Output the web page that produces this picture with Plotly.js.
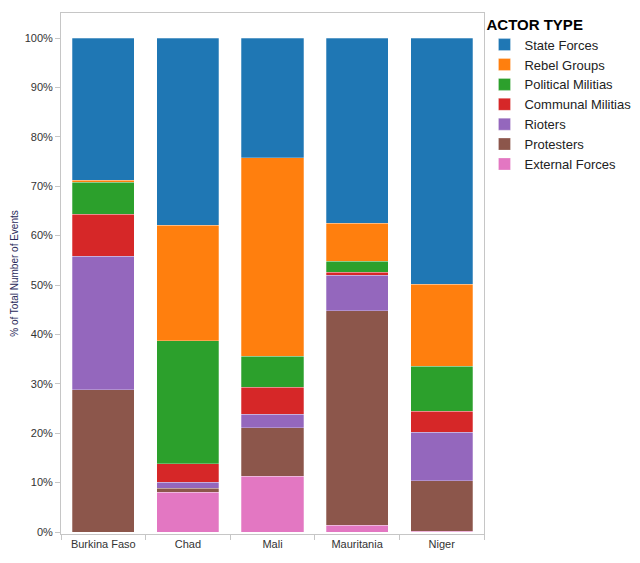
<!DOCTYPE html>
<html>
<head>
<meta charset="utf-8">
<script src="https://cdn.plot.ly/plotly-3.0.1.min.js"></script>
<style>
  html, body { margin: 0; padding: 0; background: #fff; }
  #chart { width: 640px; height: 563px; }
</style>
</head>
<body>
<div id="chart"></div>
<script>
// countries along the x axis
var countries = ['Burkina Faso', 'Chad', 'Mali', 'Mauritania', 'Niger'];

// share of events per actor type, in %
var externalForces   = [0.0,  8.1, 11.3,  1.4,  0.15];
var protesters       = [28.8, 0.8,  9.8, 43.4, 10.25];
var rioters          = [27.0, 1.2,  2.7,  7.2,  9.8];
var communalMilitias = [8.5,  3.7,  5.5,  0.6,  4.2];
var politicalMilitias= [6.5, 24.95, 6.3,  2.2,  9.2];
var rebelGroups      = [0.4, 23.35, 40.2, 7.7, 16.6];
var stateForces      = [28.8, 37.9, 24.2, 37.5, 49.8];

// y axis ticks
var yTicks = [0, 10, 20, 30, 40, 50, 60, 70, 80, 90, 100];
var yTickLabels = ['0%', '10%', '20%', '30%', '40%', '50%', '60%', '70%', '80%', '90%', '100%'];

// bottom to top of the stack
var series = [
    { name: 'External Forces',   y: externalForces,    color: '#e377c2' },
    { name: 'Protesters',        y: protesters,        color: '#8c564b' },
    { name: 'Rioters',           y: rioters,           color: '#9467bd' },
    { name: 'Communal Militias', y: communalMilitias,  color: '#d62728' },
    { name: 'Political Militias',y: politicalMilitias, color: '#2ca02c' },
    { name: 'Rebel Groups',      y: rebelGroups,       color: '#ff7f0e' },
    { name: 'State Forces',      y: stateForces,       color: '#1f77b4' }
];

var traces = series.map(function (s) {
    return {
        type: 'bar',
        name: s.name,
        x: countries,
        y: s.y,
        marker: {
            color: s.color,
            line: { color: 'rgba(255,255,255,0.45)', width: 0.6 }
        },
        hoverinfo: 'x+y+name'
    };
});

var font = 'Liberation Sans, Arial, sans-serif';

var layout = {
    width: 640,
    height: 563,
    barmode: 'stack',
    bargap: 0.267,
    paper_bgcolor: '#fff',
    plot_bgcolor: '#fff',
    margin: { l: 61, r: 156, t: 13, b: 29 },
    font: { family: font, size: 11, color: '#333' },
    xaxis: {
        type: 'category',
        range: [-0.5, 4.5],
        showline: true,
        mirror: true,
        linecolor: '#c6c6c6',
        linewidth: 1,
        ticks: 'outside',
        tickson: 'boundaries',
        ticklen: 5,
        tickcolor: '#c6c6c6',
        showgrid: false,
        tickfont: { family: font, size: 11, color: '#333' }
    },
    yaxis: {
        range: [-0.4, 105.06],
        tickmode: 'array',
        tickvals: yTicks,
        ticktext: yTickLabels,
        showline: true,
        mirror: true,
        linecolor: '#c6c6c6',
        linewidth: 1,
        ticks: 'outside',
        ticklen: 5,
        tickcolor: '#c6c6c6',
        showgrid: false,
        zeroline: false,
        tickfont: { family: font, size: 11, color: '#333' },
        title: {
            text: '% of Total Number of Events',
            font: { family: font, size: 10, color: '#2a2a5a' },
            standoff: 4
        }
    },
    legend: {
        xref: 'container',
        yref: 'container',
        x: 0.757,
        xanchor: 'left',
        y: 0.982,
        yanchor: 'top',
        traceorder: 'reversed',
        font: { family: font, size: 13, color: '#222' },
        title: {
            text: '<b>ACTOR TYPE</b>',
            font: { family: font, size: 15, color: '#000' }
        },
        itemwidth: 30,
        bgcolor: 'rgba(0,0,0,0)'
    },
    showlegend: true
};

Plotly.newPlot('chart', traces, layout, { displayModeBar: false, staticPlot: true });
</script>
</body>
</html>
